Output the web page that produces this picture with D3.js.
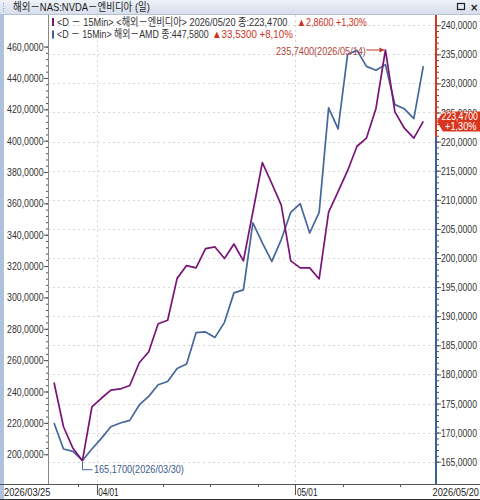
<!DOCTYPE html>
<html><head><meta charset="utf-8">
<script src="https://cdn.jsdelivr.net/npm/d3@7"></script>
<style>body{margin:0;background:#fff}svg{display:block}</style>
</head><body>
<svg id="c" width="480" height="500"></svg>
<script>
// ---- data ----
const dates = ["2026/03/25","2026/03/26","2026/03/27","2026/03/30","2026/03/31",
"2026/04/01","2026/04/02","2026/04/06","2026/04/07","2026/04/08","2026/04/09","2026/04/10",
"2026/04/13","2026/04/14","2026/04/15","2026/04/16","2026/04/17",
"2026/04/20","2026/04/21","2026/04/22","2026/04/23","2026/04/24",
"2026/04/27","2026/04/28","2026/04/29","2026/04/30","2026/05/01",
"2026/05/04","2026/05/05","2026/05/06","2026/05/07","2026/05/08",
"2026/05/11","2026/05/12","2026/05/13","2026/05/14","2026/05/15",
"2026/05/18","2026/05/19","2026/05/20"];
const nvda = [178.6,171.0,167.3,165.17,174.4,175.9,177.3,177.5,178.1,182.0,183.9,188.7,189.3,
196.5,198.7,198.3,201.6,201.9,199.9,202.4,199.5,207.9,216.4,212.8,209.1,199.5,198.3,198.3,196.4,
207.9,211.4,215.0,219.2,220.6,225.7,235.74,225.1,222.3,220.61,223.47];
const amd = [219.9,203.3,201.8,196.0,203.3,210.1,217.5,219.9,221.6,231.4,236.9,244.3,246.4,
254.6,257.6,277.5,278.0,274.5,284.1,302.9,304.8,347.5,334.8,323.0,336.9,354.3,359.8,341.1,354.3,
420.9,407.5,454.9,457.6,447.4,444.9,448.5,423.0,420.3,414.05,447.58];
const leftTicks = [200,220,240,260,280,300,320,340,360,380,400,420,440,460];
const rightTicks = [165,170,175,180,185,190,195,200,205,210,215,220,225,230,235,240];
const xLabelDates = ["2026/03/25","2026/04/01","2026/05/01"];
const xMinorDates = ["2026/03/30","2026/04/13","2026/04/20","2026/04/27","2026/05/08","2026/05/18"];
const title = "해외－NAS:NVDA－엔비디아 (일)";
const legend1 = {head:"<D － 15Min> <해외－엔비디아> 2026/05/20 종:223,4700", chg:"▲2,8600 +1,30%"};
const legend2 = {head:"<D － 15Min> 해외－AMD 종:447,5800", chg:"▲33,5300 +8,10%"};
const lastChange = "+1,30%";

// ---- setup ----
const svg = d3.select("#c");
const FONT = "'Liberation Sans','Noto Sans CJK KR',sans-serif";
const loc = d3.formatLocale({decimal:",", thousands:".", grouping:[3], currency:["",""]});
const fmt = loc.format(".4f");
const PURPLE = "#7a1477", BLUE = "#45679a", RED = "#d8361f", AXBLUE = "#3d5f95";
const pTop = 15, pBot = 484, axL = 48, axR = 436;
// squeeze a text horizontally to a target width (the reference uses a narrow bitmap font)
function fit(sel, len){
  sel.each(function(){
    const n = this.getComputedTextLength();
    if (!n) return;
    const s = len / n;
    const x0 = +(this.getAttribute("x") || 0);
    this.setAttribute("x", x0 / s);
    this.setAttribute("transform", `scale(${s},1)`);
  });
  return sel;
}

const x = d3.scaleBand().domain([...dates, "pad"]).range([49.3, 437.5]);
const xc = d => x(d) + x.bandwidth()/2;
const yL = d3.scaleLinear().domain([200, 460]).range([454.2, 46.6]);
const yR = d3.scaleLinear().domain([165, 240]).range([461.7, 25.2]);

// frame
svg.append("rect").attr("x",0).attr("y",0).attr("width",480).attr("height",500).attr("fill","#fff");
const grad = svg.append("defs").append("linearGradient").attr("id","tb").attr("x1",0).attr("y1",0).attr("x2",0).attr("y2",1);
grad.append("stop").attr("offset","0%").attr("stop-color","#eef2f8");
grad.append("stop").attr("offset","100%").attr("stop-color","#d6dfec");
svg.append("rect").attr("x",0).attr("y",0).attr("width",480).attr("height",14).attr("fill","url(#tb)");
svg.append("line").attr("x1",0).attr("x2",480).attr("y1",14.5).attr("y2",14.5).attr("stroke","#b4c2d6");
svg.append("rect").attr("x",0).attr("y",15).attr("width",4).attr("height",485).attr("fill","#afc2dc");
for (let i=0;i<4;i++) svg.append("rect").attr("x",3).attr("y",3+i*2.5).attr("width",1).attr("height",1).attr("fill","#8090a8");
fit(svg.append("text").attr("x",13).attr("y",11.5).attr("font-family",FONT).attr("font-size",11)
  .attr("fill","#1a1a1a").text(title), 137);
svg.append("rect").attr("x",457.5).attr("y",3.5).attr("width",7).attr("height",6).attr("fill","none").attr("stroke","#222").attr("stroke-width",1.2);
svg.append("text").attr("x",470).attr("y",11).attr("font-family","DejaVu Sans").attr("font-size",10).attr("font-weight","bold").attr("fill","#222").text("×");

// grid
const grid = svg.append("g").attr("stroke","#d6d6d6").attr("stroke-dasharray","2,3").attr("stroke-width",1);
grid.selectAll("line.h").data(rightTicks).join("line").attr("x1",axL).attr("x2",axR)
  .attr("y1",d=>Math.round(yR(d))+0.5).attr("y2",d=>Math.round(yR(d))+0.5);
grid.selectAll("line.v").data(xLabelDates.slice(1)).join("line")
  .attr("x1",d=>Math.round(x(d))+0.5).attr("x2",d=>Math.round(x(d))+0.5).attr("y1",pTop).attr("y2",pBot);

// left axis
const gL = svg.append("g").attr("transform",`translate(${axL},0)`);
gL.call(d3.axisLeft(yL).tickValues(d3.range(200,461,4)).tickSize(2).tickFormat(""));
gL.call(g=>g.append("g").call(d3.axisLeft(yL).tickValues(leftTicks).tickSize(4).tickFormat(fmt)));
gL.selectAll(".domain").remove();
gL.selectAll("line").attr("stroke","#555");
fit(gL.selectAll("text").attr("font-family",FONT).attr("font-size",11).attr("fill","#333").attr("x",-4.5), 36.5);
svg.append("line").attr("x1",axL+0.5).attr("x2",axL+0.5).attr("y1",pTop).attr("y2",pBot).attr("stroke","#888");

// right axis
const gR = svg.append("g").attr("transform",`translate(${axR},0)`);
gR.call(d3.axisRight(yR).tickValues(d3.range(165,241,1)).tickSize(3).tickFormat(""));
gR.call(g=>g.append("g").call(d3.axisRight(yR).tickValues(rightTicks).tickSize(5).tickFormat(fmt)));
gR.selectAll(".domain").remove();
gR.selectAll("line").attr("stroke","#555");
fit(gR.selectAll("text").attr("font-family",FONT).attr("font-size",11).attr("fill","#333").attr("x",5), 36);
svg.append("line").attr("x1",axR).attr("x2",axR).attr("y1",pTop).attr("y2",137).attr("stroke",RED).attr("stroke-width",2);
svg.append("line").attr("x1",axR).attr("x2",axR).attr("y1",137).attr("y2",pBot).attr("stroke",AXBLUE).attr("stroke-width",2);

// x axis
svg.append("line").attr("x1",0).attr("x2",480).attr("y1",pBot+0.5).attr("y2",pBot+0.5).attr("stroke","#555");
svg.append("line").attr("x1",0).attr("x2",480).attr("y1",499.5).attr("y2",499.5).attr("stroke","#333");
const gx = svg.append("g");
gx.selectAll("line.mi").data(xMinorDates).join("line").attr("x1",d=>Math.round(x(d))+0.5).attr("x2",d=>Math.round(x(d))+0.5)
  .attr("y1",pBot).attr("y2",pBot+3).attr("stroke","#555");
gx.selectAll("line.ma").data(xLabelDates.slice(1)).join("line").attr("x1",d=>Math.round(x(d))+0.5).attr("x2",d=>Math.round(x(d))+0.5)
  .attr("y1",pBot).attr("y2",pBot+11).attr("stroke","#555");
gx.selectAll("text.xl").data(xLabelDates).join("text")
  .attr("x",(d,i)=> i===0 ? 4 : x(d)+1.5).attr("y",496.5)
  .attr("font-family",FONT).attr("font-size",11).attr("fill","#222")
  .text((d,i)=> i===0 ? d : d.slice(5))
  .each(function(d,i){ fit(d3.select(this), i===0 ? 46.5 : 20.5); });
fit(gx.append("text").attr("x",479).attr("y",496.5).attr("text-anchor","end").attr("font-family",FONT).attr("font-size",11)
  .attr("fill","#222").text(dates[dates.length-1]), 46.5);

// lines
const lineL = d3.line().x((d,i)=>xc(dates[i])).y(d=>yL(d));
const lineR = d3.line().x((d,i)=>xc(dates[i])).y(d=>yR(d));
svg.append("path").datum(amd).attr("d",lineL).attr("fill","none").attr("stroke",BLUE).attr("stroke-width",1.7).attr("stroke-linejoin","round");
svg.append("path").datum(nvda).attr("d",lineR).attr("fill","none").attr("stroke",PURPLE).attr("stroke-width",1.7).attr("stroke-linejoin","round");

// annotations
const iMin = nvda.indexOf(d3.min(nvda)), iMax = nvda.indexOf(d3.max(nvda));
const mx = xc(dates[iMin]), my = yR(nvda[iMin]);
svg.append("path").attr("d",`M${mx},${my+1}V${my+9}H${mx+10}`).attr("fill","none").attr("stroke",BLUE).attr("stroke-width",1);
fit(svg.append("text").attr("x",mx+11.5).attr("y",my+12.5).attr("font-family",FONT).attr("font-size",11).attr("fill","#3d5a8a")
  .text(fmt(nvda[iMin])+"("+dates[iMin]+")"), 90);
const Mx = xc(dates[iMax]), My = yR(nvda[iMax]);
svg.append("line").attr("x1",Mx-19).attr("x2",Mx-1).attr("y1",My).attr("y2",My).attr("stroke","#c0392b").attr("stroke-width",1);
svg.append("path").attr("d",`M${Mx-1},${My}l-5,-2.5v5z`).attr("fill","#c0392b");
fit(svg.append("text").attr("x",Mx-19.5).attr("y",My+5).attr("text-anchor","end").attr("font-family",FONT).attr("font-size",11)
  .attr("fill","#b0443a").text(fmt(nvda[iMax])+"("+dates[iMax]+")"), 90);

// legend
function legend(y, color, L, headLen, chgX, chgLen){
  svg.append("rect").attr("x",52).attr("y",y-8).attr("width",2).attr("height",8).attr("fill",color);
  fit(svg.append("text").attr("x",57).attr("y",y).attr("font-family",FONT).attr("font-size",11).attr("fill","#333").text(L.head), headLen);
  fit(svg.append("text").attr("x",chgX).attr("y",y).attr("font-family",FONT).attr("font-size",11).attr("fill","#d0301c").text(L.chg), chgLen);
}
legend(26, PURPLE, legend1, 231, 297, 70);
legend(38.5, AXBLUE, legend2, 152, 212, 81);

// last price label
const lp = nvda[nvda.length-1], ly = yR(lp);
svg.append("path").attr("d",`M437,${ly}L443,${ly-10}H480V${ly+10}H443Z`).attr("fill",RED);
fit(svg.append("text").attr("x",478).attr("y",ly-1.5).attr("text-anchor","end").attr("font-family",FONT).attr("font-size",11).attr("fill","#fff").text(fmt(lp)), 36.5);
fit(svg.append("text").attr("x",476.5).attr("y",ly+8.8).attr("text-anchor","end").attr("font-family",FONT).attr("font-size",11).attr("fill","#fff").text(lastChange), 31.5);
</script>
</body></html>
